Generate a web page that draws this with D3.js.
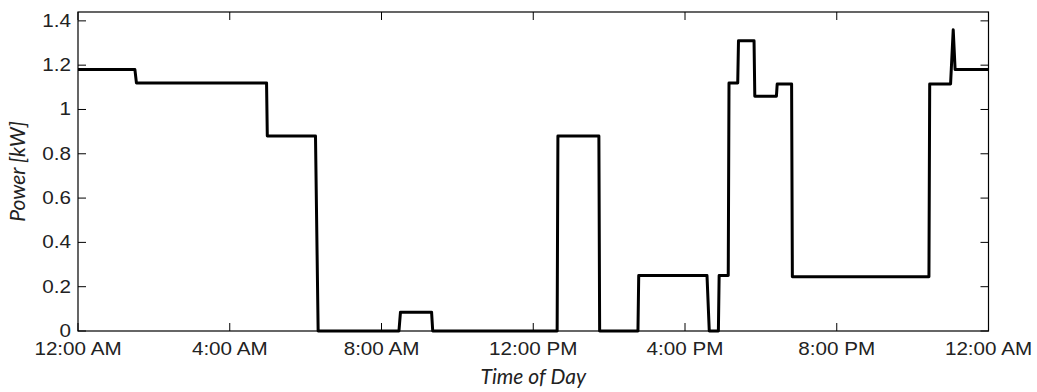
<!DOCTYPE html>
<html>
<head>
<meta charset="utf-8">
<script src="https://cdn.jsdelivr.net/npm/d3@7"></script>
<style>
  body { margin: 0; background: #fff; }
  svg { display: block; }
</style>
</head>
<body>
<svg id="chart" width="1037" height="392"></svg>
<script>
// Data: time of day (hours) and power (kW), breakpoints of the load profile
const timeHours = [0, 1.50, 1.54, 4.97, 4.99, 6.26, 6.33, 8.46, 8.50, 9.32, 9.35, 12.63, 12.65, 13.73, 13.75, 14.76, 14.78, 16.58, 16.64, 16.88, 16.90, 17.14, 17.16, 17.39, 17.41, 17.82, 17.84, 18.41, 18.43, 18.81, 18.83, 22.43, 22.45, 23.00, 23.07, 23.12, 24];
const powerKW   = [1.18, 1.18, 1.12, 1.12, 0.88, 0.88, 0, 0, 0.085, 0.085, 0, 0, 0.88, 0.88, 0, 0, 0.25, 0.25, 0, 0, 0.25, 0.25, 1.12, 1.12, 1.31, 1.31, 1.06, 1.06, 1.115, 1.115, 0.245, 0.245, 1.115, 1.115, 1.36, 1.18, 1.18];
const xTickValues = [0, 4, 8, 12, 16, 20, 24];
const xTickLabels = ["12:00 AM", "4:00 AM", "8:00 AM", "12:00 PM", "4:00 PM", "8:00 PM", "12:00 AM"];
const yTickValues = [0, 0.2, 0.4, 0.6, 0.8, 1, 1.2, 1.4];
const yTickLabels = ["0", "0.2", "0.4", "0.6", "0.8", "1", "1.2", "1.4"];
const xTitle = "Time of Day";
const yTitle = "Power [kW]";

const W = 1037, H = 392;
const m = { left: 78, right: 48.5, top: 12, bottom: 61 };
const svg = d3.select("#chart");

const x = d3.scaleLinear().domain([0, 24]).range([m.left, W - m.right]);
const y = d3.scaleLinear().domain([0, 1.44]).range([H - m.bottom, m.top]);

const tickLen = 8;
const labelFont = "'Liberation Sans', Arial, sans-serif";
const fs = 17.5, stretch = 1.18;

// frame
svg.append("rect")
  .attr("x", x(0)).attr("y", y(1.44))
  .attr("width", x(24) - x(0)).attr("height", y(0) - y(1.44))
  .attr("fill", "none").attr("stroke", "#000").attr("stroke-width", 1.2);

// x ticks (bottom and top, inward)
xTickValues.forEach((v, i) => {
  const px = x(v);
  svg.append("line").attr("x1", px).attr("x2", px)
    .attr("y1", y(0)).attr("y2", y(0) - tickLen)
    .attr("stroke", "#000").attr("stroke-width", 1);
  svg.append("line").attr("x1", px).attr("x2", px)
    .attr("y1", y(1.44)).attr("y2", y(1.44) + tickLen)
    .attr("stroke", "#000").attr("stroke-width", 1);
  svg.append("text")
    .attr("transform", `translate(${px},${y(0) + 24}) scale(${stretch},1)`)
    .attr("text-anchor", "middle")
    .attr("font-family", labelFont).attr("font-size", fs)
    .attr("fill", "#222")
    .text(xTickLabels[i]);
});

// y ticks (left and right, inward)
yTickValues.forEach((v, i) => {
  const py = y(v);
  svg.append("line").attr("x1", x(0)).attr("x2", x(0) + tickLen)
    .attr("y1", py).attr("y2", py)
    .attr("stroke", "#000").attr("stroke-width", 1);
  svg.append("line").attr("x1", x(24)).attr("x2", x(24) - tickLen)
    .attr("y1", py).attr("y2", py)
    .attr("stroke", "#000").attr("stroke-width", 1);
  svg.append("text")
    .attr("transform", `translate(${x(0) - 7},${py + 6}) scale(${stretch},1)`)
    .attr("text-anchor", "end")
    .attr("font-family", labelFont).attr("font-size", fs)
    .attr("fill", "#222")
    .text(yTickLabels[i]);
});

// axis titles
svg.append("text")
  .attr("x", (x(0) + x(24)) / 2).attr("y", 384)
  .attr("text-anchor", "middle")
  .attr("font-family", "Lato, 'Open Sans', sans-serif").attr("font-style", "italic")
  .attr("font-size", 21).attr("fill", "#222")
  .text(xTitle);
svg.append("text")
  .attr("transform", `translate(25,${(y(0) + y(1.44)) / 2}) rotate(-90)`)
  .attr("text-anchor", "middle")
  .attr("font-family", "Lato, 'Open Sans', sans-serif").attr("font-style", "italic")
  .attr("font-size", 21).attr("fill", "#222")
  .text(yTitle);

// data line
const pts = timeHours.map((t, i) => [t, powerKW[i]]);
svg.append("path")
  .datum(pts)
  .attr("d", d3.line().x(d => x(d[0])).y(d => y(d[1])))
  .attr("fill", "none").attr("stroke", "#000")
  .attr("stroke-width", 3).attr("stroke-linejoin", "round");
</script>
</body>
</html>
